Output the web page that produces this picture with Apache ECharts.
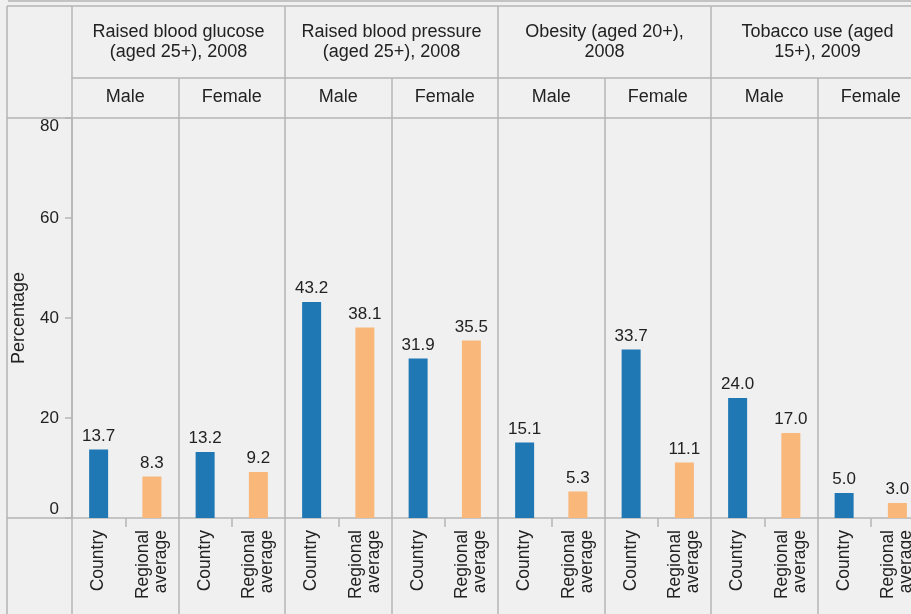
<!DOCTYPE html>
<html>
<head>
<meta charset="utf-8">
<script src="https://cdn.jsdelivr.net/npm/echarts@6/dist/echarts.min.js"></script>
<style>
  html, body { margin: 0; padding: 0; background: #f0f0f0; }
  #chart { width: 911px; height: 614px; }
</style>
</head>
<body>
<div id="chart"></div>
<script>
// data
var indicators = ['Raised blood glucose\n(aged 25+), 2008', 'Raised blood pressure\n(aged 25+), 2008',
                  'Obesity (aged 20+),\n2008', 'Tobacco use (aged\n15+), 2009'];
var sexes = ['Male', 'Female'];
var groups = ['Country', 'Regional\naverage'];
var countryValues = [13.7, 13.2, 43.2, 31.9, 15.1, 33.7, 24.0, 5.0];
var regionalValues = [8.3, 9.2, 38.1, 35.5, 5.3, 11.1, 17.0, 3.0];
var yTicks = [0, 20, 40, 60, 80];

// build category lists
var sexCats = [];
indicators.forEach(function (ind, i) {
    sexes.forEach(function (s) { sexCats.push(s + '|' + i); });
});
var groupCats = [];
sexCats.forEach(function (s, j) {
    groups.forEach(function (g) { groupCats.push(g + '|' + j); });
});
var countryData = [], regionalData = [];
countryValues.forEach(function (v, j) {
    countryData.push(v, '-');
    regionalData.push('-', regionalValues[j]);
});

var lineColor = '#b5b5b5';
var font = 'Liberation Sans, Arial, sans-serif';
var textColor = '#222';
var stripKey = function (v) { return v.split('|')[0]; };

var chart = echarts.init(document.getElementById('chart'));

var option = {
    backgroundColor: '#f0f0f0',
    animation: false,
    textStyle: { fontFamily: font },
    // last panel runs past the right edge of the picture
    grid: { left: 72, top: 118, width: 852, height: 400, outerBoundsMode: 'none' },
    graphic: [
        // frame of the left column
        { type: 'line', shape: { x1: 8, y1: 1, x2: 911, y2: 1 }, style: { stroke: lineColor, lineWidth: 1.5 } },
        { type: 'line', shape: { x1: 7, y1: 6, x2: 7, y2: 614 }, style: { stroke: lineColor, lineWidth: 1.5 } },
        { type: 'line', shape: { x1: 7, y1: 6, x2: 72, y2: 6 }, style: { stroke: lineColor, lineWidth: 1.5 } },
        { type: 'line', shape: { x1: 7, y1: 118, x2: 72, y2: 118 }, style: { stroke: lineColor, lineWidth: 1.5 } },
        { type: 'line', shape: { x1: 7, y1: 518, x2: 72, y2: 518 }, style: { stroke: lineColor, lineWidth: 1.5 } }
    ],
    xAxis: [
        {   // Country / Regional average
            type: 'category', data: groupCats, position: 'bottom',
            axisLine: { show: true, lineStyle: { color: lineColor, width: 1.5 } },
            axisTick: { show: true, interval: 0, length: 9, lineStyle: { color: lineColor, width: 1.5 } },
            axisLabel: {
                interval: 0, rotate: 90, margin: 12, fontSize: 17.5, lineHeight: 18,
                color: textColor, fontFamily: font, formatter: stripKey
            },
            splitLine: { show: false }
        },
        {   // sub-panel dividers below the plot and through it
            type: 'category', data: sexCats, position: 'bottom',
            axisLine: { show: false },
            axisTick: { show: true, interval: 0, length: 96, lineStyle: { color: lineColor, width: 1.5 } },
            axisLabel: { show: false },
            splitLine: { show: true, interval: 0, lineStyle: { color: lineColor, width: 1.5 } }
        },
        {   // Male / Female header row
            type: 'category', data: sexCats, position: 'top',
            axisLine: { show: true, lineStyle: { color: lineColor, width: 1.5 } },
            axisTick: { show: true, interval: 0, length: 40, lineStyle: { color: lineColor, width: 1.5 } },
            axisLabel: {
                interval: 0, margin: 21, verticalAlign: 'middle', fontSize: 18,
                color: textColor, fontFamily: font, formatter: stripKey
            }
        },
        {   // indicator header row
            type: 'category', data: indicators, position: 'top', offset: 40,
            axisLine: { show: true, lineStyle: { color: lineColor, width: 1.5 } },
            axisTick: { show: true, interval: 0, length: 72, lineStyle: { color: lineColor, width: 1.5 } },
            axisLabel: {
                interval: 0, margin: 36, verticalAlign: 'middle', fontSize: 18, lineHeight: 20,
                color: textColor, fontFamily: font
            }
        },
        {   // top border of the header
            type: 'category', data: indicators, position: 'top', offset: 112,
            axisLine: { show: true, lineStyle: { color: lineColor, width: 1.5 } },
            axisTick: { show: false },
            axisLabel: { show: false }
        }
    ],
    yAxis: {
        type: 'value', min: yTicks[0], max: yTicks[yTicks.length - 1], interval: 20,
        name: 'Percentage', nameLocation: 'middle', nameGap: 44,
        nameTextStyle: { fontSize: 18, color: textColor, fontFamily: font },
        axisLine: { show: true, lineStyle: { color: lineColor, width: 1.5 } },
        axisTick: { show: true, length: 7, lineStyle: { color: lineColor, width: 1.5 } },
        axisLabel: {
            margin: 13, fontSize: 17, color: textColor, fontFamily: font,
            verticalAlignMinLabel: 'bottom', verticalAlignMaxLabel: 'top'
        },
        splitLine: { show: false }
    },
    series: [
        {
            name: 'Country', type: 'bar', xAxisIndex: 0, data: countryData,
            barWidth: 19, barGap: '-100%',
            itemStyle: { color: '#1f77b4' },
            label: {
                show: true, position: 'top', distance: 5, fontSize: 17, color: textColor,
                formatter: function (p) { return p.value.toFixed(1); }
            }
        },
        {
            name: 'Regional average', type: 'bar', xAxisIndex: 0, data: regionalData,
            barWidth: 19, barGap: '-100%',
            itemStyle: { color: '#f9b77a' },
            label: {
                show: true, position: 'top', distance: 5, fontSize: 17, color: textColor,
                formatter: function (p) { return p.value.toFixed(1); }
            }
        }
    ]
};

chart.setOption(option);
</script>
</body>
</html>
